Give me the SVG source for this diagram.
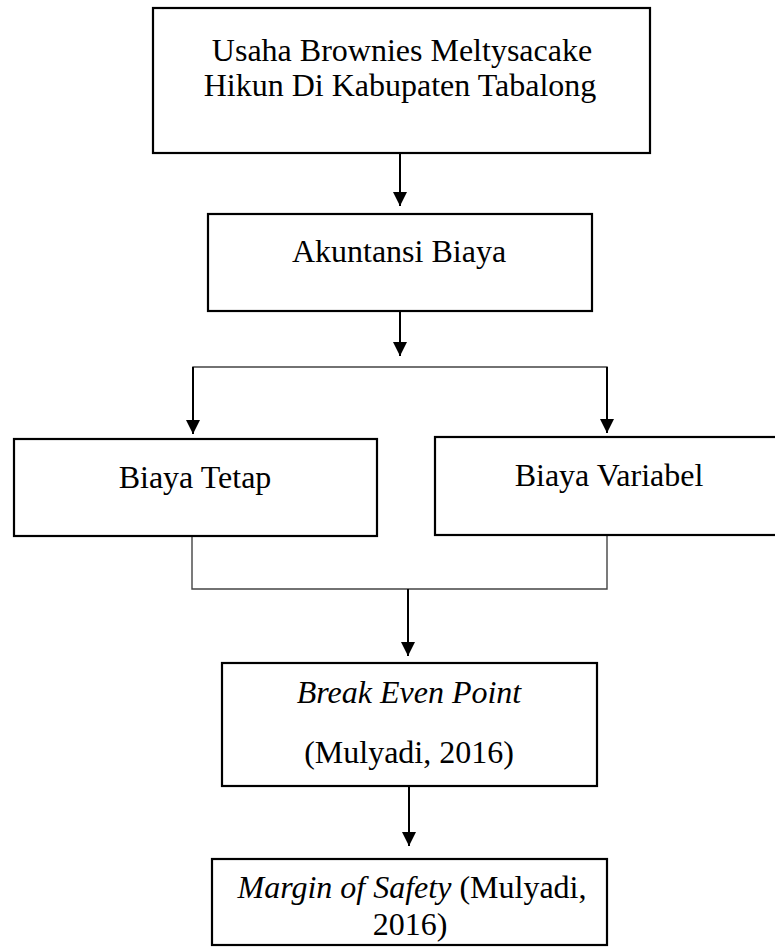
<svg xmlns="http://www.w3.org/2000/svg" width="775" height="950" viewBox="0 0 775 950">
<style>
.box{fill:#fff;stroke:#000;stroke-width:2.2}
.t{font-family:"Liberation Serif","Times New Roman",serif;font-size:32px;fill:#000;text-anchor:middle}
.i{font-style:italic}
.arr{stroke:#000;stroke-width:2;fill:none}
.thin{stroke:#444;stroke-width:1.4;fill:none}
</style>
<defs>
<marker id="ah" markerWidth="14" markerHeight="14" viewBox="0 0 14 14" refX="14" refY="7" orient="auto" markerUnits="userSpaceOnUse">
<path d="M0,0 L14,7 L0,14 Z" fill="#000"/>
</marker>
</defs>
<rect width="775" height="950" fill="#fff"/>
<g id="connectors">
<line class="arr" x1="400" y1="153" x2="400" y2="206" marker-end="url(#ah)"/>
<line class="arr" x1="400" y1="311" x2="400" y2="356" marker-end="url(#ah)"/>
<polyline class="thin" points="193,433 193,367 607,367 607,432"/>
<line class="arr" x1="193" y1="367" x2="193" y2="434" marker-end="url(#ah)"/>
<line class="arr" x1="607" y1="367" x2="607" y2="433" marker-end="url(#ah)"/>
<polyline class="thin" points="192,536 192,589 607,589 607,535"/>
<line class="arr" x1="408" y1="589" x2="408" y2="656" marker-end="url(#ah)"/>
<line class="arr" x1="409" y1="786" x2="409" y2="846" marker-end="url(#ah)"/>
</g>
<g id="node-usaha">
<rect class="box" x="153" y="8" width="497" height="145"/>
<text class="t" x="402" y="61">Usaha Brownies Meltysacake</text>
<text class="t" x="400" y="96">Hikun Di Kabupaten Tabalong</text>
</g>
<g id="node-akuntansi">
<rect class="box" x="208" y="214" width="384" height="97"/>
<text class="t" x="399" y="262">Akuntansi Biaya</text>
</g>
<g id="node-tetap">
<rect class="box" x="14" y="439" width="363" height="97"/>
<text class="t" x="195" y="488">Biaya Tetap</text>
</g>
<g id="node-variabel">
<rect class="box" x="435" y="437" width="345" height="98"/>
<text class="t" x="609" y="486">Biaya Variabel</text>
</g>
<g id="node-bep">
<rect class="box" x="222" y="663" width="375" height="123"/>
<text class="t i" x="409" y="703">Break Even Point</text>
<text class="t" x="409" y="763">(Mulyadi, 2016)</text>
</g>
<g id="node-mos">
<rect class="box" x="212" y="859" width="395" height="86"/>
<text class="t" x="412" y="898"><tspan font-style="italic">Margin of Safety</tspan> (Mulyadi,</text>
<text class="t" x="410" y="935">2016)</text>
</g>
</svg>
